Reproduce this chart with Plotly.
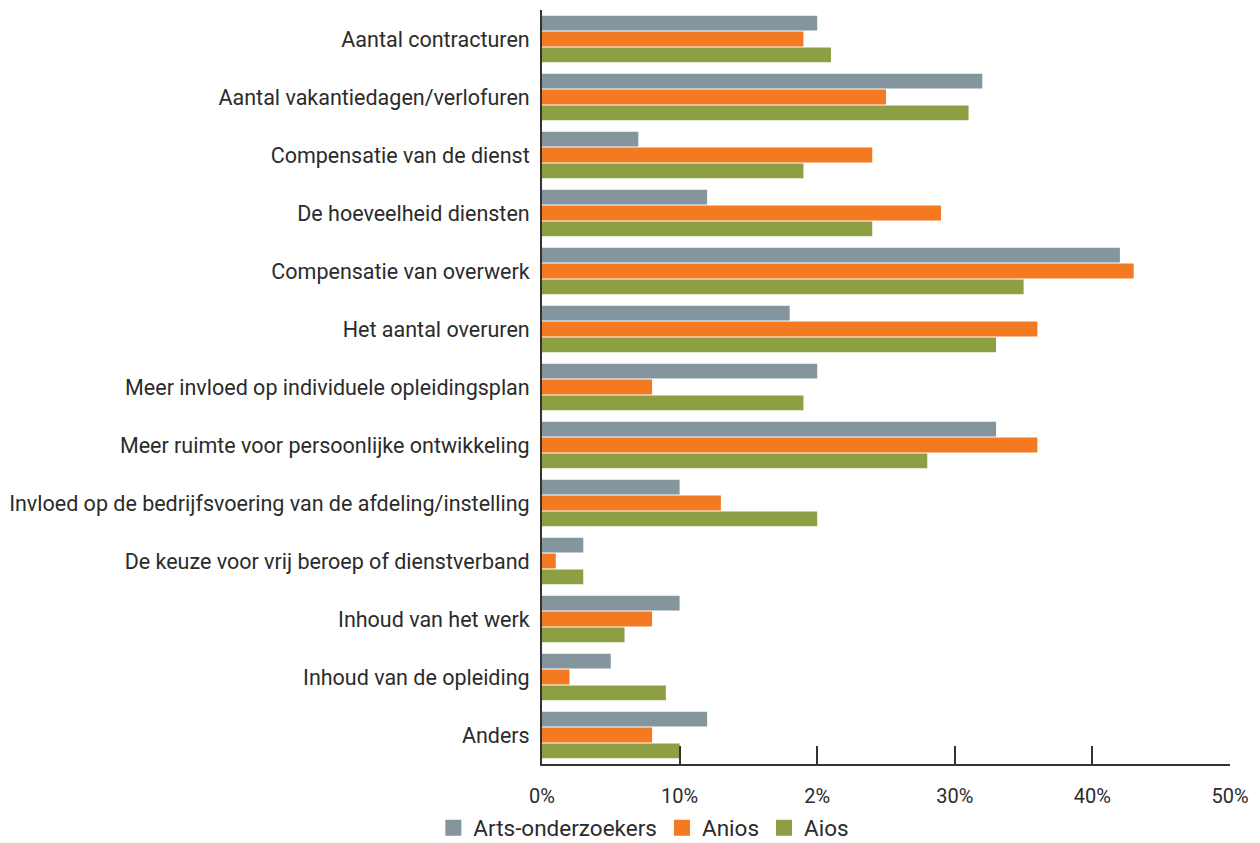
import plotly.graph_objects as go

categories = [
    "Aantal contracturen",
    "Aantal vakantiedagen/verlofuren",
    "Compensatie van de dienst",
    "De hoeveelheid diensten",
    "Compensatie van overwerk",
    "Het aantal overuren",
    "Meer invloed op individuele opleidingsplan",
    "Meer ruimte voor persoonlijke ontwikkeling",
    "Invloed op de bedrijfsvoering van de afdeling/instelling",
    "De keuze voor vrij beroep of dienstverband",
    "Inhoud van het werk",
    "Inhoud van de opleiding",
    "Anders",
]

arts_onderzoekers = [20, 32, 7, 12, 42, 18, 20, 33, 10, 3, 10, 5, 12]
anios = [19, 25, 24, 29, 43, 36, 8, 36, 13, 1, 8, 2, 8]
aios = [21, 31, 19, 24, 35, 33, 19, 28, 20, 3, 6, 9, 10]

series_names = ["Arts-onderzoekers", "Anios", "Aios"]
series_values = [arts_onderzoekers, anios, aios]
series_colors = ["#84959e", "#f47a22", "#8c9f43"]

tick_vals = [0, 10, 20, 30, 40, 50]
tick_text = ["0%", "10%", "2%", "30%", "40%", "50%"]

fig = go.Figure()
for name, vals, col in zip(series_names, series_values, series_colors):
    fig.add_trace(go.Bar(
        y=categories, x=vals, name=name, orientation="h",
        marker=dict(color=col, line=dict(width=0)),
        showlegend=False,
    ))
# legend entries with larger square swatches
for name, col in zip(series_names, series_colors):
    fig.add_trace(go.Scatter(
        x=[None], y=[None], mode="markers", name=name,
        marker=dict(symbol="square", size=18, color=col),
    ))

fig.update_layout(
    width=1260, height=843,
    margin=dict(l=542, r=30, t=10, b=79, autoexpand=False),
    paper_bgcolor="white", plot_bgcolor="white",
    barmode="group", bargap=0.18, bargroupgap=0.06,
    font=dict(family="Roboto", size=21.5, color="#2b2b2b"),
    showlegend=True,
    legend=dict(orientation="h", x=0.148, xanchor="center", y=-0.085, yanchor="middle",
                traceorder="normal", font=dict(size=22.5, color="#2b2b2b"),
                bgcolor="rgba(0,0,0,0)", itemwidth=30, tracegroupgap=0),
)
fig.update_xaxes(
    range=[0, 50], tickvals=tick_vals, ticktext=tick_text,
    showgrid=False, zeroline=False,
    showline=True, linecolor="#333333", linewidth=2,
    ticks="inside", ticklen=18, tickwidth=2, tickcolor="#333333",
    ticklabelstandoff=13,
    tickfont=dict(size=20, color="#2b2b2b"),
)
fig.update_yaxes(
    autorange="reversed", showgrid=False, zeroline=False,
    showline=True, linecolor="#333333", linewidth=2,
    ticks="", ticklabelstandoff=6,
    tickfont=dict(size=21.5, color="#2b2b2b"),
)

fig.write_html(
    "out.html",
    config={"displayModeBar": False},
    post_script="document.body.style.margin='0';document.body.style.padding='0';",
)
